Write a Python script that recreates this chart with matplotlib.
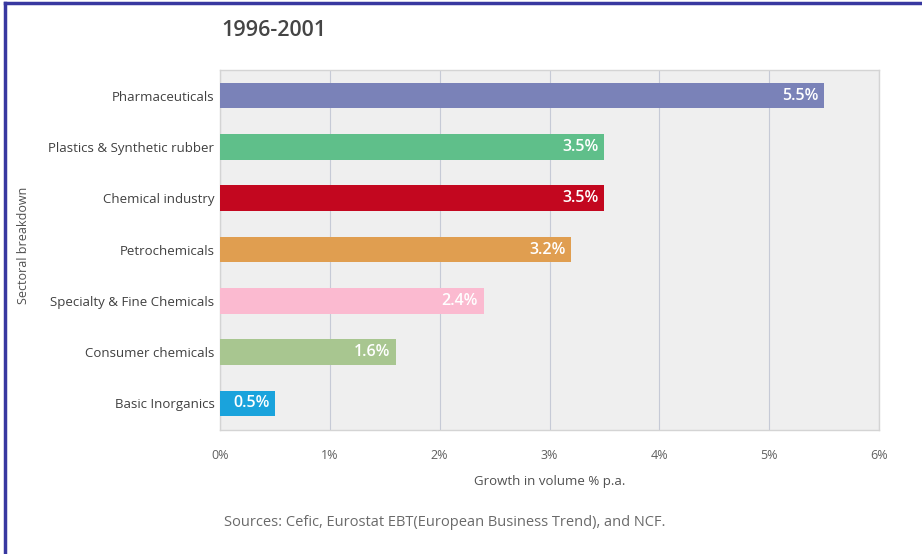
import matplotlib.pyplot as plt
from matplotlib.lines import Line2D

sectors = ["Pharmaceuticals", "Plastics & Synthetic rubber", "Chemical industry",
           "Petrochemicals", "Specialty & Fine Chemicals", "Consumer chemicals",
           "Basic Inorganics"]
growth = [5.5, 3.5, 3.5, 3.2, 2.4, 1.6, 0.5]
colors = ["#7a82b8", "#5fbf8a", "#c3071f", "#e09e50", "#fbbad0", "#a8c690", "#1aa3dc"]
xticks = [0, 1, 2, 3, 4, 5, 6]

plt.rcParams['font.family'] = ['Open Sans', 'DejaVu Sans']
textgray = "#505050"

fig = plt.figure(figsize=(9.22, 5.54), dpi=100)
ax = fig.add_axes([0.2386, 0.2238, 0.7148, 0.6498])
ax.set_facecolor("#efefef")

ypos = list(range(len(sectors)))
ax.barh(ypos, growth, height=0.5, color=colors, zorder=3)
for y, v in zip(ypos, growth):
    ax.text(v - 0.05, y, "%.1f%%" % v, ha="right", va="center", color="white",
            fontsize=11.5, fontweight="semibold", zorder=4)

ax.set_xlim(0, 6)
ax.set_ylim(len(sectors) - 0.48, -0.5)
ax.set_xticks(xticks)
ax.set_xticklabels(["%d%%" % t for t in xticks], fontsize=9, color="#606060")
ax.set_yticks(ypos)
ax.set_yticklabels(sectors, fontsize=9.5, color="#404040")
ax.tick_params(length=0, pad=4)
ax.tick_params(axis="x", pad=14)
ax.grid(axis="x", color="#c6cad6", linewidth=0.8, zorder=1)
for s in ax.spines.values():
    s.set_color("#d4d4d4")
    s.set_linewidth(1.0)

ax.set_xlabel("Growth in volume % p.a.", fontsize=9.5, color=textgray, labelpad=9)
fig.text(0.026, 0.557, "Sectoral breakdown", rotation=90, ha="center", va="center",
         fontsize=9, color=textgray)
fig.text(0.240, 0.945, "1996-2001", fontsize=15.5, fontweight="semibold",
         color="#454545", va="center")
fig.text(0.243, 0.057, "Sources: Cefic, Eurostat EBT(European Business Trend), and NCF.",
         fontsize=10.5, color="#6a6a6a", va="center")

# blue frame along the left and top edges
frame = "#3838a0"
fig.add_artist(Line2D([0.0055, 0.0055], [0.0, 0.994], color=frame, linewidth=2.5,
                      transform=fig.transFigure))
fig.add_artist(Line2D([0.0055, 1.0], [0.994, 0.994], color=frame, linewidth=2.5,
                      transform=fig.transFigure))

fig.savefig("out.png", dpi=100)
